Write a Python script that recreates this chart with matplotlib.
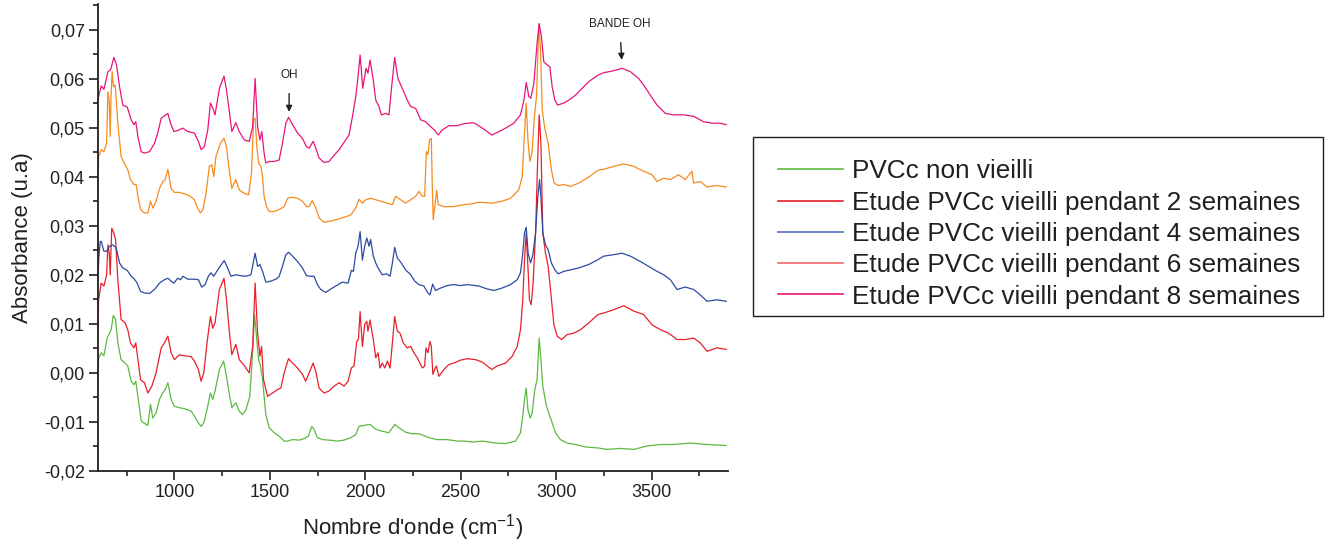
import matplotlib
matplotlib.use("Agg")
import matplotlib.pyplot as plt
from matplotlib.lines import Line2D
from matplotlib.patches import Rectangle
from matplotlib.ticker import MultipleLocator, FuncFormatter

plt.rcParams['font.family'] = ['Liberation Sans', 'DejaVu Sans']
plt.rcParams['mathtext.fontset'] = 'custom'
plt.rcParams['mathtext.rm'] = 'Liberation Sans'

# ---- data (wavenumber cm-1, absorbance u.a) ----
green_0w = [(600, -0.0010), (603, 0.0030), (617, 0.0041), (631, 0.0035), (648, 0.0071), (660, 0.0081),
    (669, 0.0088), (680, 0.0117), (692, 0.0109), (704, 0.0061), (721, 0.0027), (742, 0.0020), (756, 0.0014),
    (774, -0.0017), (788, -0.0024), (798, -0.0017), (809, -0.0048), (826, -0.0098), (843, -0.0103),
    (861, -0.0107), (875, -0.0064), (887, -0.0092), (904, -0.0082), (922, -0.0054), (939, -0.0041),
    (952, -0.0034), (966, -0.0020), (983, -0.0054), (1000, -0.0068), (1026, -0.0071), (1053, -0.0073),
    (1088, -0.0078), (1105, -0.0088), (1126, -0.0102), (1140, -0.0109), (1154, -0.0102), (1171, -0.0075),
    (1189, -0.0041), (1201, -0.0054), (1213, -0.0037), (1236, 0.0007), (1258, 0.0024), (1273, -0.0007),
    (1287, -0.0041), (1301, -0.0071), (1322, -0.0061), (1340, -0.0078), (1357, -0.0085), (1375, -0.0075),
    (1395, -0.0048), (1410, 0.0041), (1420, 0.0119), (1430, 0.0075), (1441, 0.0027), (1451, 0.0014),
    (1462, -0.0014), (1479, -0.0085), (1497, -0.0112), (1523, -0.0122), (1549, -0.0129), (1575, -0.0139),
    (1593, -0.0139), (1619, -0.0136), (1654, -0.0137), (1680, -0.0134), (1702, -0.0129), (1720, -0.0109),
    (1732, -0.0115), (1749, -0.0132), (1776, -0.0136), (1810, -0.0137), (1854, -0.0139), (1889, -0.0137),
    (1924, -0.0132), (1950, -0.0126), (1967, -0.0109), (1994, -0.0107), (2025, -0.0105), (2055, -0.0115),
    (2089, -0.0119), (2124, -0.0122), (2154, -0.0105), (2177, -0.0112), (2211, -0.0121), (2246, -0.0124),
    (2281, -0.0124), (2333, -0.0132), (2377, -0.0136), (2429, -0.0136), (2482, -0.0139), (2517, -0.0139),
    (2565, -0.0141), (2613, -0.0139), (2683, -0.0143), (2735, -0.0144), (2787, -0.0139), (2813, -0.0122),
    (2825, -0.0088), (2834, -0.0054), (2843, -0.0031), (2852, -0.0075), (2864, -0.0092), (2874, -0.0082),
    (2888, -0.0034), (2900, -0.0014), (2911, 0.0071), (2920, 0.0027), (2930, -0.0027), (2947, -0.0064),
    (2961, -0.0082), (2979, -0.0102), (2996, -0.0122), (3022, -0.0136), (3057, -0.0143), (3101, -0.0146),
    (3153, -0.0151), (3219, -0.0153), (3266, -0.0156), (3336, -0.0154), (3406, -0.0156), (3476, -0.0149),
    (3546, -0.0146), (3615, -0.0146), (3702, -0.0143), (3790, -0.0146), (3890, -0.0148)]

red_2w = [(600, 0.0090), (603, 0.0149), (617, 0.0183), (631, 0.0177), (645, 0.0200), (652, 0.0261),
    (659, 0.0244), (664, 0.0200), (672, 0.0295), (683, 0.0285), (692, 0.0272), (704, 0.0190), (721, 0.0109),
    (742, 0.0102), (756, 0.0088), (770, 0.0061), (788, 0.0051), (798, 0.0061), (809, 0.0027), (823, -0.0014),
    (843, -0.0020), (861, -0.0041), (882, -0.0027), (904, 0.0000), (931, 0.0051), (948, 0.0061), (966, 0.0075),
    (983, 0.0041), (1000, 0.0027), (1026, 0.0037), (1053, 0.0035), (1088, 0.0033), (1105, 0.0024),
    (1126, 0.0007), (1140, -0.0017), (1154, 0.0000), (1171, 0.0061), (1189, 0.0115), (1201, 0.0091),
    (1213, 0.0102), (1236, 0.0170), (1260, 0.0193), (1273, 0.0149), (1287, 0.0088), (1301, 0.0037),
    (1322, 0.0058), (1340, 0.0027), (1366, 0.0015), (1392, 0.0000), (1410, 0.0054), (1423, 0.0183),
    (1436, 0.0081), (1448, 0.0034), (1457, 0.0054), (1467, -0.0014), (1488, -0.0048), (1514, -0.0041),
    (1540, -0.0034), (1558, -0.0031), (1575, 0.0000), (1598, 0.0029), (1619, 0.0020), (1645, 0.0010),
    (1671, -0.0003), (1688, -0.0017), (1706, 0.0000), (1727, 0.0020), (1741, 0.0003), (1758, -0.0031),
    (1784, -0.0041), (1810, -0.0037), (1837, -0.0027), (1863, -0.0020), (1889, -0.0027), (1910, -0.0017),
    (1927, 0.0010), (1941, 0.0014), (1955, 0.0064), (1964, 0.0068), (1973, 0.0125), (1985, 0.0054),
    (1997, 0.0099), (2008, 0.0105), (2014, 0.0085), (2025, 0.0108), (2042, 0.0068), (2055, 0.0031),
    (2067, 0.0041), (2077, 0.0010), (2089, 0.0020), (2102, 0.0010), (2116, 0.0024), (2130, 0.0010),
    (2142, 0.0061), (2154, 0.0115), (2168, 0.0085), (2182, 0.0081), (2199, 0.0061), (2220, 0.0051),
    (2238, 0.0054), (2255, 0.0041), (2272, 0.0031), (2299, 0.0010), (2311, 0.0014), (2318, 0.0051),
    (2328, 0.0041), (2339, 0.0064), (2346, 0.0054), (2354, -0.0003), (2363, 0.0007), (2372, 0.0014),
    (2386, -0.0007), (2412, 0.0007), (2438, 0.0017), (2464, 0.0020), (2499, 0.0026), (2534, 0.0029),
    (2578, 0.0027), (2613, 0.0022), (2639, 0.0014), (2662, 0.0007), (2691, 0.0014), (2735, 0.0020),
    (2770, 0.0034), (2796, 0.0054), (2813, 0.0088), (2825, 0.0149), (2834, 0.0230), (2843, 0.0285),
    (2852, 0.0217), (2860, 0.0149), (2869, 0.0139), (2879, 0.0183), (2892, 0.0285), (2902, 0.0421),
    (2911, 0.0526), (2920, 0.0468), (2930, 0.0285), (2944, 0.0244), (2958, 0.0217), (2972, 0.0163),
    (2988, 0.0098), (3005, 0.0075), (3028, 0.0068), (3057, 0.0078), (3092, 0.0081), (3127, 0.0088),
    (3171, 0.0102), (3219, 0.0119), (3249, 0.0122), (3302, 0.0129), (3354, 0.0137), (3406, 0.0126),
    (3458, 0.0119), (3502, 0.0098), (3546, 0.0088), (3589, 0.0081), (3633, 0.0068), (3676, 0.0068),
    (3720, 0.0071), (3755, 0.0061), (3790, 0.0044), (3842, 0.0051), (3890, 0.0048)]

blue_4w = [(600, 0.0200), (605, 0.0240), (612, 0.0268), (617, 0.0268), (631, 0.0248), (645, 0.0248),
    (660, 0.0258), (678, 0.0261), (695, 0.0255), (713, 0.0224), (730, 0.0214), (753, 0.0209), (774, 0.0197),
    (791, 0.0191), (805, 0.0183), (823, 0.0166), (843, 0.0163), (870, 0.0162), (896, 0.0170), (922, 0.0183),
    (948, 0.0190), (966, 0.0193), (983, 0.0187), (997, 0.0183), (1018, 0.0193), (1032, 0.0190),
    (1044, 0.0197), (1070, 0.0191), (1105, 0.0191), (1126, 0.0190), (1143, 0.0175), (1161, 0.0180),
    (1178, 0.0197), (1192, 0.0204), (1206, 0.0197), (1227, 0.0210), (1261, 0.0229), (1279, 0.0214),
    (1296, 0.0197), (1322, 0.0200), (1349, 0.0198), (1375, 0.0197), (1401, 0.0200), (1423, 0.0244),
    (1436, 0.0217), (1448, 0.0221), (1462, 0.0207), (1479, 0.0185), (1505, 0.0187), (1532, 0.0191),
    (1549, 0.0197), (1566, 0.0217), (1584, 0.0241), (1598, 0.0246), (1619, 0.0238), (1645, 0.0227),
    (1671, 0.0214), (1692, 0.0198), (1714, 0.0197), (1732, 0.0197), (1749, 0.0180), (1767, 0.0170),
    (1793, 0.0164), (1819, 0.0171), (1845, 0.0177), (1880, 0.0185), (1910, 0.0183), (1927, 0.0209),
    (1938, 0.0207), (1950, 0.0244), (1962, 0.0258), (1973, 0.0288), (1985, 0.0230), (1997, 0.0258),
    (2008, 0.0275), (2020, 0.0258), (2028, 0.0272), (2042, 0.0238), (2055, 0.0224), (2067, 0.0214),
    (2089, 0.0200), (2112, 0.0202), (2130, 0.0197), (2142, 0.0224), (2154, 0.0256), (2168, 0.0234),
    (2189, 0.0224), (2211, 0.0210), (2238, 0.0200), (2259, 0.0187), (2281, 0.0180), (2307, 0.0177),
    (2328, 0.0163), (2339, 0.0159), (2353, 0.0181), (2368, 0.0168), (2395, 0.0173), (2429, 0.0178),
    (2464, 0.0180), (2499, 0.0178), (2534, 0.0180), (2595, 0.0177), (2639, 0.0171), (2674, 0.0168),
    (2717, 0.0173), (2761, 0.0180), (2796, 0.0190), (2813, 0.0204), (2825, 0.0244), (2834, 0.0285),
    (2843, 0.0297), (2853, 0.0244), (2866, 0.0224), (2878, 0.0241), (2892, 0.0285), (2904, 0.0360),
    (2913, 0.0394), (2921, 0.0353), (2930, 0.0285), (2944, 0.0261), (2958, 0.0251), (2975, 0.0224),
    (2993, 0.0210), (3010, 0.0202), (3040, 0.0207), (3075, 0.0210), (3118, 0.0214), (3171, 0.0221),
    (3219, 0.0231), (3249, 0.0238), (3302, 0.0241), (3345, 0.0244), (3389, 0.0238), (3441, 0.0227),
    (3485, 0.0217), (3519, 0.0209), (3563, 0.0200), (3598, 0.0190), (3633, 0.0170), (3676, 0.0175),
    (3720, 0.0170), (3755, 0.0159), (3790, 0.0146), (3842, 0.0149), (3890, 0.0146)]

orange_6w = [(600, 0.0380), (603, 0.0441), (617, 0.0455), (631, 0.0451), (645, 0.0468), (652, 0.0573),
    (659, 0.0556), (664, 0.0482), (669, 0.0570), (674, 0.0614), (681, 0.0583), (690, 0.0587), (704, 0.0509),
    (721, 0.0441), (742, 0.0424), (756, 0.0414), (770, 0.0394), (788, 0.0384), (800, 0.0384), (809, 0.0360),
    (823, 0.0333), (843, 0.0326), (861, 0.0326), (875, 0.0350), (887, 0.0336), (904, 0.0350), (922, 0.0376),
    (939, 0.0390), (952, 0.0394), (966, 0.0415), (983, 0.0376), (1000, 0.0368), (1026, 0.0368),
    (1053, 0.0365), (1079, 0.0361), (1105, 0.0353), (1122, 0.0336), (1136, 0.0326), (1150, 0.0333),
    (1166, 0.0366), (1183, 0.0421), (1196, 0.0424), (1206, 0.0400), (1218, 0.0441), (1241, 0.0468),
    (1260, 0.0478), (1273, 0.0461), (1287, 0.0414), (1301, 0.0376), (1322, 0.0394), (1340, 0.0373),
    (1366, 0.0366), (1389, 0.0363), (1404, 0.0407), (1415, 0.0516), (1423, 0.0519), (1432, 0.0461),
    (1441, 0.0428), (1453, 0.0421), (1462, 0.0400), (1470, 0.0360), (1483, 0.0339), (1497, 0.0329),
    (1523, 0.0329), (1549, 0.0333), (1575, 0.0339), (1593, 0.0356), (1619, 0.0358), (1645, 0.0356),
    (1671, 0.0350), (1692, 0.0339), (1706, 0.0339), (1723, 0.0351), (1741, 0.0336), (1758, 0.0316),
    (1784, 0.0307), (1810, 0.0309), (1845, 0.0312), (1880, 0.0316), (1924, 0.0322), (1950, 0.0336),
    (1967, 0.0354), (1985, 0.0346), (2002, 0.0353), (2028, 0.0356), (2055, 0.0353), (2081, 0.0350),
    (2116, 0.0346), (2142, 0.0343), (2159, 0.0360), (2185, 0.0353), (2211, 0.0346), (2238, 0.0353),
    (2264, 0.0360), (2281, 0.0370), (2299, 0.0360), (2311, 0.0360), (2320, 0.0451), (2328, 0.0445),
    (2337, 0.0475), (2346, 0.0478), (2351, 0.0380), (2356, 0.0312), (2365, 0.0343), (2374, 0.0372),
    (2382, 0.0343), (2412, 0.0339), (2464, 0.0339), (2517, 0.0343), (2565, 0.0345), (2595, 0.0348),
    (2665, 0.0346), (2717, 0.0350), (2761, 0.0356), (2804, 0.0373), (2822, 0.0400), (2834, 0.0489),
    (2843, 0.0550), (2852, 0.0475), (2862, 0.0431), (2874, 0.0451), (2886, 0.0523), (2897, 0.0563),
    (2909, 0.0711), (2918, 0.0658), (2927, 0.0536), (2940, 0.0499), (2958, 0.0468), (2975, 0.0414),
    (2989, 0.0387), (3010, 0.0382), (3040, 0.0384), (3075, 0.0380), (3118, 0.0387), (3162, 0.0397),
    (3219, 0.0413), (3249, 0.0415), (3302, 0.0421), (3354, 0.0426), (3406, 0.0421), (3458, 0.0411),
    (3502, 0.0404), (3528, 0.0390), (3563, 0.0397), (3598, 0.0394), (3641, 0.0404), (3676, 0.0394),
    (3711, 0.0411), (3720, 0.0387), (3755, 0.0390), (3790, 0.0379), (3842, 0.0382), (3890, 0.0379)]

magenta_8w = [(600, 0.0555), (603, 0.0563), (617, 0.0585), (631, 0.0578), (652, 0.0614), (666, 0.0618),
    (683, 0.0643), (697, 0.0628), (713, 0.0583), (730, 0.0546), (753, 0.0542), (774, 0.0516), (788, 0.0506),
    (798, 0.0512), (809, 0.0482), (826, 0.0451), (843, 0.0448), (870, 0.0451), (896, 0.0468), (913, 0.0489),
    (931, 0.0519), (948, 0.0524), (966, 0.0529), (980, 0.0509), (997, 0.0492), (1018, 0.0494),
    (1044, 0.0499), (1070, 0.0492), (1105, 0.0489), (1126, 0.0472), (1140, 0.0455), (1157, 0.0461),
    (1175, 0.0495), (1189, 0.0550), (1201, 0.0540), (1213, 0.0526), (1236, 0.0580), (1260, 0.0605),
    (1273, 0.0577), (1287, 0.0536), (1301, 0.0492), (1322, 0.0510), (1340, 0.0492), (1366, 0.0475),
    (1392, 0.0472), (1410, 0.0502), (1423, 0.0600), (1436, 0.0502), (1448, 0.0475), (1458, 0.0492),
    (1470, 0.0448), (1479, 0.0428), (1497, 0.0431), (1523, 0.0431), (1549, 0.0434), (1566, 0.0468),
    (1584, 0.0509), (1598, 0.0521), (1619, 0.0506), (1645, 0.0489), (1671, 0.0478), (1692, 0.0461),
    (1706, 0.0458), (1727, 0.0472), (1741, 0.0458), (1758, 0.0438), (1784, 0.0429), (1810, 0.0431),
    (1837, 0.0444), (1863, 0.0455), (1889, 0.0470), (1915, 0.0485), (1933, 0.0523), (1950, 0.0563),
    (1962, 0.0604), (1973, 0.0648), (1987, 0.0580), (2004, 0.0621), (2014, 0.0611), (2025, 0.0638),
    (2042, 0.0597), (2055, 0.0556), (2072, 0.0543), (2084, 0.0526), (2107, 0.0529), (2124, 0.0526),
    (2138, 0.0583), (2154, 0.0643), (2171, 0.0600), (2194, 0.0580), (2220, 0.0556), (2238, 0.0543),
    (2264, 0.0539), (2290, 0.0516), (2316, 0.0512), (2342, 0.0502), (2363, 0.0495), (2382, 0.0485),
    (2403, 0.0495), (2438, 0.0504), (2482, 0.0504), (2517, 0.0508), (2565, 0.0510), (2578, 0.0508),
    (2613, 0.0499), (2639, 0.0492), (2662, 0.0485), (2691, 0.0490), (2735, 0.0499), (2778, 0.0509),
    (2813, 0.0526), (2831, 0.0556), (2843, 0.0592), (2857, 0.0563), (2867, 0.0560), (2883, 0.0590),
    (2900, 0.0672), (2911, 0.0712), (2923, 0.0685), (2935, 0.0634), (2953, 0.0628), (2967, 0.0624),
    (2979, 0.0583), (2993, 0.0556), (3007, 0.0546), (3040, 0.0550), (3066, 0.0556), (3101, 0.0566),
    (3136, 0.0580), (3171, 0.0594), (3219, 0.0607), (3249, 0.0612), (3302, 0.0616), (3345, 0.0621),
    (3389, 0.0614), (3432, 0.0600), (3458, 0.0587), (3493, 0.0566), (3528, 0.0546), (3572, 0.0529),
    (3615, 0.0526), (3668, 0.0526), (3720, 0.0523), (3772, 0.0512), (3816, 0.0509), (3859, 0.0509),
    (3890, 0.0506)]

series_labels = ["PVCc non vieilli",
                 "Etude PVCc vieilli pendant 2 semaines",
                 "Etude PVCc vieilli pendant 4 semaines",
                 "Etude PVCc vieilli pendant 6 semaines",
                 "Etude PVCc vieilli pendant 8 semaines"]
line_colors = ["#5DB942", "#E8202A", "#2B4BA0", "#F68B1F", "#E8157A"]
legend_colors = ["#5DB942", "#E8202A", "#5470C0", "#F06A6A", "#E8157A"]

x_ticks = [1000, 1500, 2000, 2500, 3000, 3500]
y_ticks = [-0.02, -0.01, 0.00, 0.01, 0.02, 0.03, 0.04, 0.05, 0.06, 0.07]

W, H = 1333, 546
fig = plt.figure(figsize=(W / 100, H / 100), dpi=100)
ax = fig.add_axes([98 / W, 75 / H, 630 / W, 467 / H])

all_series = [green_0w, red_2w, blue_4w, orange_6w, magenta_8w]
for pts, col in zip(all_series, line_colors):
    xs = [p[0] for p in pts]
    ys = [p[1] for p in pts]
    ax.plot(xs, ys, color=col, lw=0.9)

ax.set_xlim(600, 3900)
ax.set_ylim(-0.02, 0.0752)
ax.spines['top'].set_visible(False)
ax.spines['right'].set_visible(False)
for s in ('left', 'bottom'):
    ax.spines[s].set_linewidth(1.3)
    ax.spines[s].set_color('#231f20')
ax.set_xticks(x_ticks)
ax.set_yticks(y_ticks)
ax.xaxis.set_minor_locator(MultipleLocator(250))
ax.yaxis.set_minor_locator(MultipleLocator(0.005))
ax.yaxis.set_major_formatter(FuncFormatter(lambda v, p: f"{round(v, 2):.2f}".replace('.', ',').replace('-0,00', '0,00')))
ax.tick_params(which='major', direction='out', length=6.5, width=1.2, labelsize=13, colors='#231f20', pad=3)
ax.tick_params(which='minor', direction='out', length=3.5, width=1.2, colors='#231f20')

ax.set_xlabel("Nombre d'onde (cm$^{\\mathregular{-1}}$)", fontsize=16, color='#231f20', labelpad=8)
ax.set_ylabel("Absorbance (u.a)", fontsize=16, color='#231f20', labelpad=8)

ax.annotate("OH", xy=(1601, 0.0532), xytext=(1601, 0.0607), ha='center', va='center', fontsize=8.5,
            color='#231f20', arrowprops=dict(arrowstyle='-|>', color='#231f20', lw=1, mutation_scale=9,
                                             shrinkA=7, shrinkB=0))
ax.annotate("BANDE OH", xy=(3343, 0.0638), xytext=(3333, 0.0711), ha='center', va='center', fontsize=8.5,
            color='#231f20', arrowprops=dict(arrowstyle='-|>', color='#231f20', lw=1, mutation_scale=9,
                                             shrinkA=7, shrinkB=0))

# legend box
fig.patches.append(Rectangle((753 / W, (H - 316) / H), 570 / W, 179 / H, transform=fig.transFigure,
                             fill=False, edgecolor='#231f20', lw=1.0))
handles = [Line2D([], [], color=c, lw=1.2) for c in legend_colors]
fs = 18.8
fspx = fs * 100 / 72
leg = fig.legend(handles, series_labels, loc='center left', bbox_to_anchor=(778 / W, (H - 234) / H),
                 bbox_transform=fig.transFigure, frameon=False, fontsize=fs, borderpad=0, borderaxespad=0,
                 handlelength=65 / fspx, handletextpad=9 / fspx, labelspacing=0.28)
for t in leg.get_texts():
    t.set_color('#231f20')

fig.savefig("out.png", dpi=100)
